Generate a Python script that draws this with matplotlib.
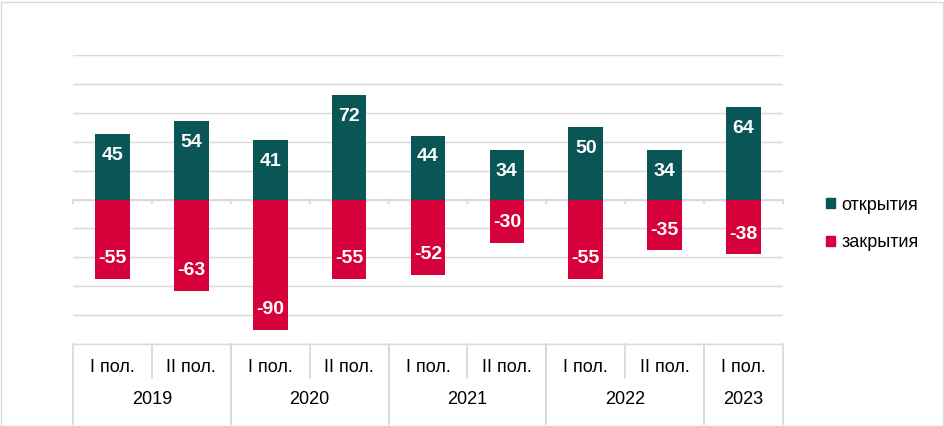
import matplotlib.pyplot as plt
from matplotlib.patches import Patch, Rectangle
from matplotlib.transforms import blended_transform_factory

plt.rcParams['font.family'] = ['Liberation Sans', 'DejaVu Sans']

halves = ["I пол.", "II пол.", "I пол.", "II пол.", "I пол.", "II пол.", "I пол.", "II пол.", "I пол."]
years = ["2019", "2020", "2021", "2022", "2023"]
year_spans = [(0, 1), (2, 3), (4, 5), (6, 7), (8, 8)]
openings = [45, 54, 41, 72, 44, 34, 50, 34, 64]
closings = [-55, -63, -90, -55, -52, -30, -55, -35, -38]

green = "#0a5556"
red = "#d6003a"
grid = "#d9d9d9"

fig = plt.figure(figsize=(9.45, 4.26), dpi=100)
ax = fig.add_axes([73 / 945, 1 - 344 / 426, 710 / 945, 289 / 426])

x = list(range(len(openings)))
w = 0.44
ax.bar(x, openings, width=w, color=green, zorder=3)
ax.bar(x, closings, width=w, color=red, zorder=3)

# labels inside bar ends
for i, v in enumerate(openings):
    ax.annotate(str(v), (i, v), xytext=(0, -21), textcoords="offset pixels",
                ha="center", va="center", color="white", fontsize=14, fontweight="bold", zorder=4)
for i, v in enumerate(closings):
    ax.annotate(str(v), (i, v), xytext=(0, 20), textcoords="offset pixels",
                ha="center", va="center", color="white", fontsize=14, fontweight="bold", zorder=4)

ax.set_xlim(-0.5, len(openings) - 0.5)
ax.set_ylim(-100, 100)
ax.set_yticks(range(-100, 101, 20))
ax.yaxis.grid(True, color=grid, linewidth=1.0, zorder=0)
ax.tick_params(axis="y", length=0, labelleft=False)
ax.set_xticks([])
for s in ["left", "right", "top"]:
    ax.spines[s].set_visible(False)
ax.spines["bottom"].set_color(grid)
ax.spines["bottom"].set_linewidth(1.0)

# zero axis with small tick marks at category boundaries
ax.axhline(0, color=grid, linewidth=1.3, zorder=2)
for b in range(len(openings) + 1):
    ax.annotate("", xy=(b - 0.5, 0), xytext=(0, -4), textcoords="offset pixels",
                arrowprops=dict(arrowstyle="-", color=grid, lw=1.3, shrinkA=0, shrinkB=0))

# two-level category labels under the plot
tr = blended_transform_factory(ax.transData, ax.transAxes)
short = 34 / 289
long_ = 80 / 289
for i, lab in enumerate(halves):
    ax.text(i, -24 / 289, lab, transform=tr, ha="center", va="center", fontsize=13, color="black")
for (a, b), yr in zip(year_spans, years):
    ax.text((a + b) / 2, -56 / 289, yr, transform=tr, ha="center", va="center", fontsize=13, color="black")
    ax.plot([a - 0.5, a - 0.5], [0, -long_], transform=tr, color=grid, lw=1.3, clip_on=False)
    ax.plot([b + 0.5, b + 0.5], [0, -long_], transform=tr, color=grid, lw=1.3, clip_on=False)
    if b > a:
        ax.plot([a + 0.5, a + 0.5], [0, -short], transform=tr, color=grid, lw=1.3, clip_on=False)

handles = [Patch(color=green), Patch(color=red)]
fig.legend(handles, ["открытия", "закрытия"], loc="center left",
           bbox_to_anchor=(810 / 945, 1 - 224 / 426), frameon=False, fontsize=13,
           handlelength=0.5, handleheight=0.5, handletextpad=0.35, labelspacing=1.15)

fig.patches.append(Rectangle((0.5 / 945, 0.5 / 426), 943 / 945, 424 / 426, transform=fig.transFigure,
                             fill=False, edgecolor=grid, linewidth=1.0))

fig.savefig("out.png", dpi=100)
